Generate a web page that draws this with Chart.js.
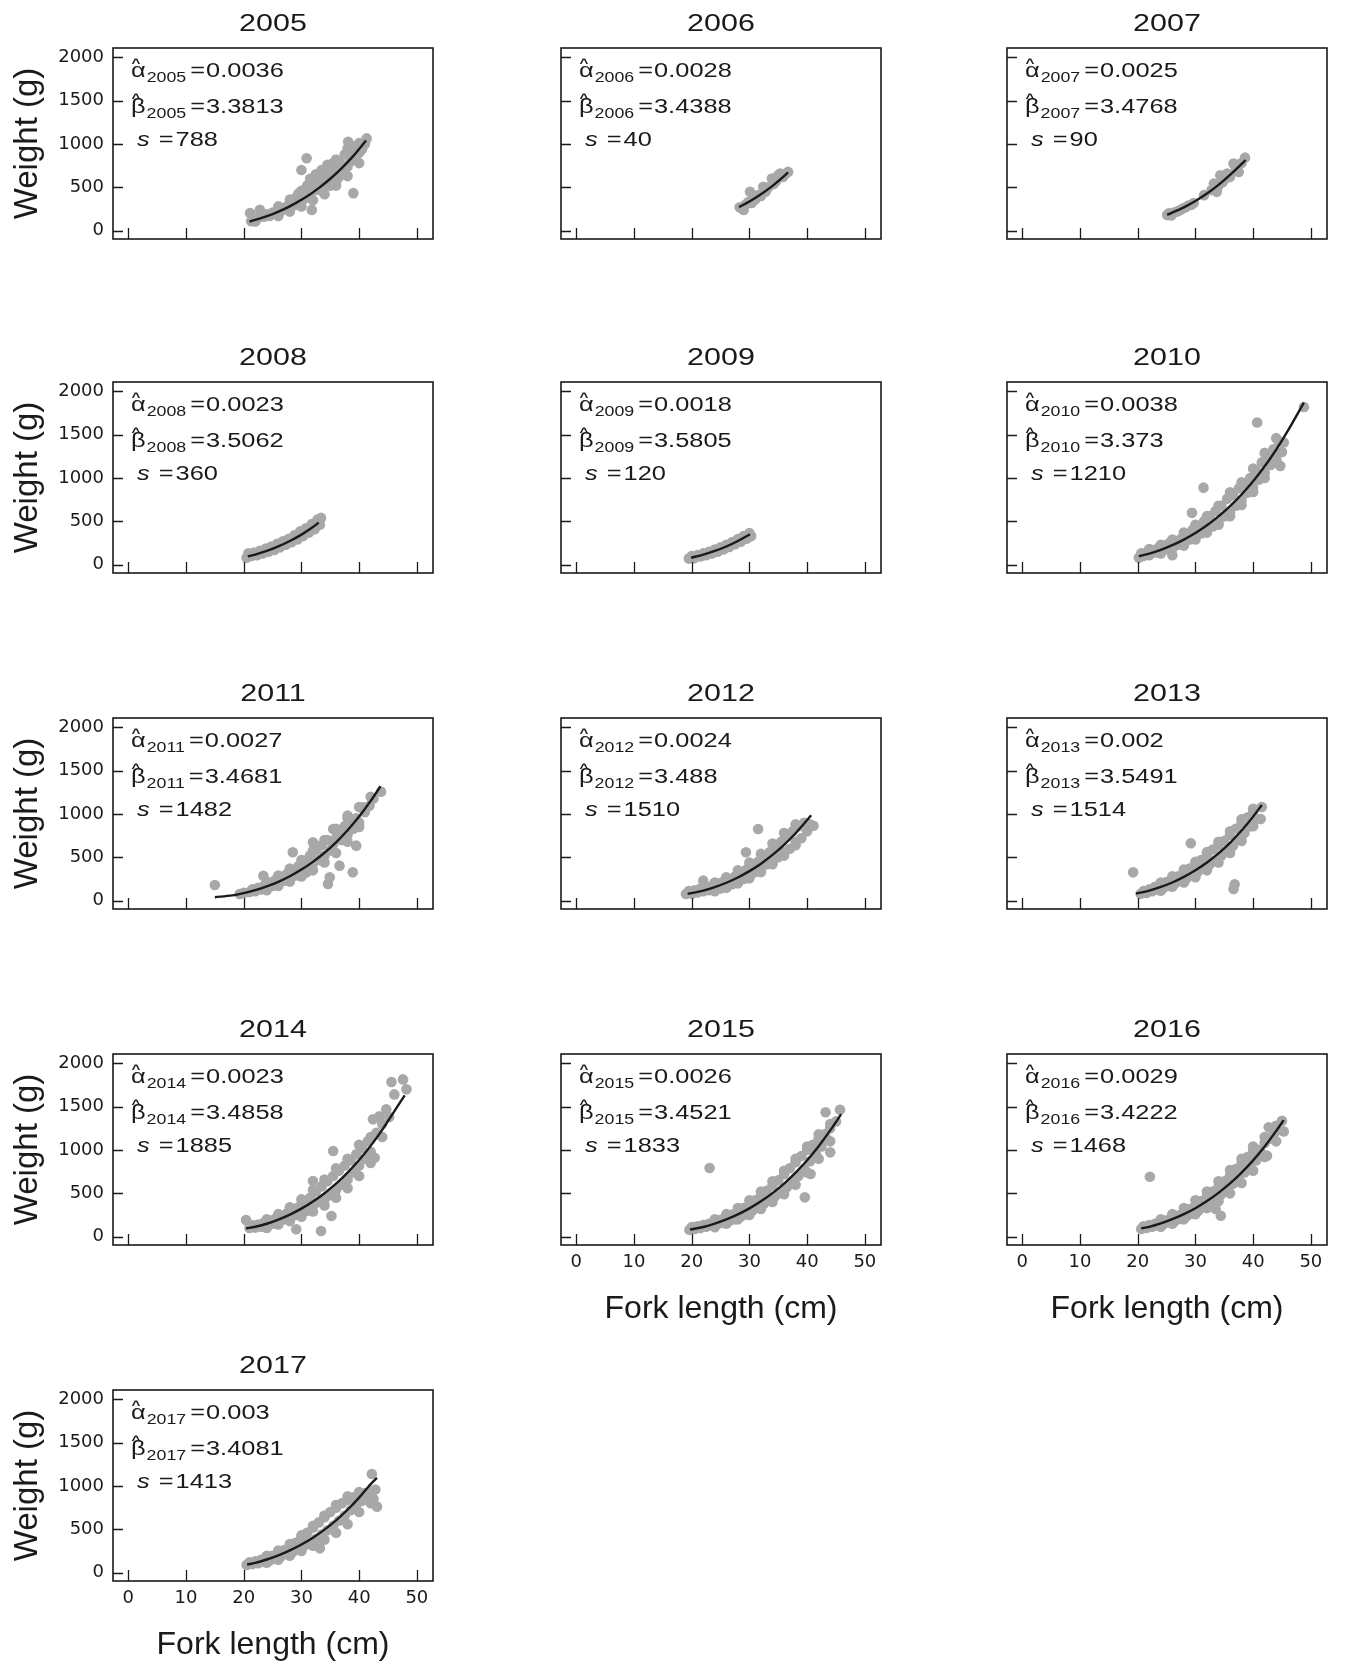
<!DOCTYPE html>
<html>
<head>
<meta charset="utf-8">
<script src="https://cdn.jsdelivr.net/npm/chart.js@4.4.1/dist/chart.umd.min.js"></script>
<style>
  body { margin: 0; background: #fff; }
  #page { position: relative; width: 1346px; height: 1665px; overflow: hidden; background: #fff; }
  .panel { position: absolute; width: 443px; height: 322px; }
</style>
</head>
<body>
<div id="page"></div>
<script>
// fitted parameters per year
const years = [2005, 2006, 2007, 2008, 2009, 2010, 2011, 2012, 2013, 2014, 2015, 2016, 2017];
const alphaHat = ['0.0036', '0.0028', '0.0025', '0.0023', '0.0018', '0.0038', '0.0027', '0.0024', '0.002', '0.0023', '0.0026', '0.0029', '0.003'];
const betaHat = ['3.3813', '3.4388', '3.4768', '3.5062', '3.5805', '3.373', '3.4681', '3.488', '3.5491', '3.4858', '3.4521', '3.4222', '3.4081'];
const sampleSize = [788, 40, 90, 360, 120, 1210, 1482, 1510, 1514, 1885, 1833, 1468, 1413];

const xTicks = [0, 10, 20, 30, 40, 50];
const yTicks = [0, 500, 1000, 1500, 2000];

const obs2005 = [[21.1,203],[21.3,110],[22,107],[22.5,150],[22.8,241],[23.5,160],[24,190],[24.5,170],[25,210],[25.5,200],[26,240],[26.5,230],[27,260],[27.5,280],[28,300],[28,240],[28.5,330],[29,300],[29,380],[29.5,350],[29.5,430],[30,700],[30.9,835],[30,330],[30.5,400],[30.5,470],[31,380],[31,520],[31.5,440],[31.5,600],[31.8,240],[32,460],[32,560],[32.5,500],[32.5,650],[33,470],[33,580],[33.5,530],[33.5,700],[34,500],[34,620],[34.5,560],[34.5,760],[35,520],[35,660],[35.5,600],[35.5,780],[36,560],[36,700],[36.5,620],[36.5,800],[37,660],[37,760],[37.5,700],[37.5,880],[38,740],[38.1,1027],[38.5,800],[38.5,920],[39,433],[39,830],[39.5,870],[39.5,980],[40,900],[40,960],[40.5,940],[41,1000],[41.3,1065],
  [26,280],[26,170],[28,360],[28,220],[30,460],[30,280],[32,580],[32,350],[34,700],[34,420],[36,820],[36,520],[38,950],[38,630],[40,1010],[40,780]];
const obs2006 = [[28.3,270],[28.7,255],[29,240],[29.3,300],[29.8,330],[30.1,448],[30.4,320],[30.8,390],[31,360],[31.5,410],[32,400],[32.4,506],[32.8,450],[33.3,500],[33.9,601],[34.2,540],[34.6,570],[35,640],[35.3,659],[35.8,620],[36.2,650],[36.7,678]];
const obs2007 = [[25.1,180],[25.4,200],[25.8,175],[26.3,210],[26.8,220],[27.3,235],[27.8,255],[28.3,270],[28.8,290],[29.3,300],[29.7,320],[31.5,410],[32.8,470],[33.2,544],[33.7,448],[34,520],[34.3,640],[34.7,560],[35.2,600],[35.5,660],[36,621],[36.6,774],[37,700],[37.5,678],[38,780],[38.6,843]];
const obs2008 = [[20.5,80],[20.8,130],[21.3,100],[21.8,140],[22.3,110],[22.8,160],[23.3,130],[23.8,185],[24.3,150],[24.8,210],[25.3,170],[25.8,240],[26.3,200],[26.8,270],[27.3,230],[27.8,300],[28.3,260],[28.8,340],[29.3,290],[29.8,385],[30.3,330],[30.8,420],[31.3,370],[31.8,470],[32.3,410],[32.8,520],[33.2,460],[33.4,540]];
const obs2009 = [[19.5,70],[20,100],[20.4,75],[21,110],[21.5,95],[22,130],[22.5,110],[23,150],[23.5,130],[24,175],[24.5,150],[25,200],[25.5,175],[26,230],[26.5,205],[27,260],[27.5,235],[28,295],[28.5,265],[29,330],[29.5,300],[30,365],[30.3,330]];
const obs2010 = [[20.2,80],[20.6,130],[21,100],[21.5,140],[22,110],[22.5,170],[23,140],[23.5,190],[24,160],[24.5,220],[25,180],[25.5,250],[26,110],[26.2,200],[26.5,270],[27,230],[27.5,300],[28,250],[28.5,350],[29,290],[29.4,598],[29.5,400],[30,320],[30.5,450],[31,360],[31.4,889],[31.5,500],[32,400],[32.5,560],[33,440],[33.5,620],[34,480],[34.5,680],[35,560],[35.5,760],[36,600],[36,835],[36.5,800],[37,680],[37.5,880],[38,750],[38.5,940],[39,830],[39.5,1000],[40,890],[40.5,1080],[40.7,1640],[41,980],[41.5,1180],[42,1060],[42.5,1260],[43,1150],[43.5,1330],[44,1220],[44.5,1420],[44.7,1140],[45,1300],[45.3,1410],[48.8,1820],
  [22,180],[24,230],[24,130],[26,290],[28,370],[28,220],[30,460],[30,290],[32,560],[32,370],[34,680],[34,460],[36,800],[36,560],[38,950],[38,690],[40,1110],[40,840],[42,1290],[42,1000],[44,1460],[44,1200]];
const obs2011 = [[15,181],[19.3,77],[20,90],[21,100],[21.5,130],[22,110],[22.5,150],[23,130],[23.4,288],[23.5,170],[24,150],[24.5,200],[25,170],[25.5,240],[26,200],[26.5,270],[27,230],[27.5,310],[28,250],[28.5,558],[28.5,340],[29,290],[29.5,400],[30,330],[30.5,460],[30.9,327],[31,400],[31.5,520],[32,673],[32,430],[32.5,580],[33,470],[33.5,640],[34,520],[34.5,700],[34.6,192],[34.9,270],[35,580],[35.5,827],[35.5,650],[36,720],[36.6,404],[36.5,780],[37,700],[37.5,860],[38,981],[38,760],[38.5,880],[38.9,327],[39,830],[39.5,635],[39.5,950],[40,900],[40.7,1077],[41,1020],[41.8,1096],[42.5,1180],[43.8,1258],
  [24,220],[24,120],[26,290],[26,170],[28,370],[28,220],[30,470],[30,280],[32,580],[32,350],[34,700],[34,440],[36,830],[36,550],[38,950],[38,680],[40,1080],[40,850],[42,1200]];
const obs2012 = [[19,77],[19.5,110],[20,80],[20.5,120],[21,95],[21.5,140],[22,231],[22,110],[22.5,150],[23,120],[23.5,170],[24,130],[24.5,200],[25,140],[25.5,220],[26,160],[26.5,240],[27,190],[27.5,280],[28,210],[28.5,320],[29,250],[29.4,558],[29.5,360],[30,290],[30.5,400],[31,330],[31.5,827],[31.5,450],[32,380],[32.5,500],[33,420],[33.5,560],[34,460],[34.5,620],[35,500],[35.5,680],[36,560],[36.5,740],[37,600],[37.5,800],[38,680],[38.5,860],[39,720],[39.5,900],[40,800],[40.5,880],[41.1,865],
  [22,160],[24,210],[24,110],[26,270],[26,150],[28,350],[28,200],[30,440],[30,260],[32,540],[32,330],[34,660],[34,420],[36,780],[36,520],[38,880],[38,640]];
const obs2013 = [[19.2,327],[20.5,80],[21,110],[21.5,90],[22,130],[22.5,110],[23,160],[23.5,130],[24,185],[24.5,150],[25,215],[25.5,170],[26,240],[26.5,200],[27,280],[27.5,230],[28,320],[28.5,260],[29,370],[29.2,662],[29.5,300],[30,420],[30.5,340],[31,470],[31.5,380],[32,530],[32.5,420],[33,590],[33.5,470],[34,640],[34.5,520],[35,690],[35.5,570],[36,760],[36.5,630],[36.6,135],[36.8,190],[37,830],[37.5,700],[38,900],[38.5,780],[39,960],[39.5,860],[40,1019],[40.5,940],[41.3,942],[41.5,1080],
  [24,210],[24,115],[26,280],[26,160],[28,360],[28,210],[30,450],[30,270],[32,560],[32,350],[34,680],[34,440],[36,800],[36,550],[38,940],[38,690],[40,1060],[40,860]];
const obs2014 = [[20.4,192],[21,100],[21.5,130],[22,105],[22.5,140],[23,115],[23.5,160],[24,130],[24.5,185],[25,150],[25.5,210],[26,170],[26.5,230],[27,200],[27.5,270],[28,220],[28.5,300],[29,250],[29.1,85],[29.5,340],[30,280],[30.5,380],[31,300],[31.5,450],[32,642],[32,360],[32.5,520],[33,400],[33.4,65],[33.5,580],[34,430],[34.5,640],[35,480],[35.2,238],[35.5,988],[35.5,700],[36,540],[36.5,760],[37,600],[37.5,820],[38,660],[38.5,880],[39,740],[39.5,950],[40,820],[40.5,1020],[41,900],[41.5,1100],[42,980],[42.4,1354],[42.7,911],[43,1200],[43.5,1390],[44,1150],[44.7,1470],[45.2,1380],[45.6,1785],[46.1,1642],[47.6,1815],[48.2,1700],
  [24,200],[24,100],[26,260],[26,140],[28,340],[28,180],[30,430],[30,230],[32,540],[32,290],[34,660],[34,360],[36,790],[36,450],[38,900],[38,560],[40,1060],[40,700],[42,1150],[42,850],[44,1300]];
const obs2015 = [[19.6,80],[20,110],[20.5,90],[21,120],[21.5,100],[22,135],[22.5,115],[23,150],[23.1,792],[23.5,130],[24,170],[24.5,145],[25,195],[25.5,160],[26,225],[26.5,180],[27,255],[27.5,200],[28,290],[28.5,230],[29,330],[29.5,260],[30,370],[30.5,300],[31,420],[31.5,340],[32,470],[32.5,380],[33,530],[33.5,430],[34,590],[34.5,470],[35,650],[35.5,520],[36,720],[36.5,570],[37,790],[37.5,640],[38,860],[38.5,700],[39,930],[39.5,780],[39.6,454],[40,1000],[40.6,723],[40.5,870],[41,1060],[41.5,960],[42,1130],[42.5,1040],[43,1180],[43.2,1435],[43.5,1120],[44,973],[44,1250],[45,1330],[45.7,1465],
  [24,200],[24,110],[26,260],[26,150],[28,330],[28,200],[30,420],[30,250],[32,520],[32,320],[34,640],[34,400],[36,760],[36,490],[38,900],[38,600],[40,1040],[40,740],[42,1180],[42,900],[44,1300],[44,1100]];
const obs2016 = [[20.6,88],[21,120],[21.5,100],[22,135],[22.1,692],[22.5,115],[23,150],[23.5,130],[24,170],[24.5,145],[25,190],[25.5,165],[26,215],[26.5,185],[27,245],[27.5,205],[28,280],[28.5,235],[29,320],[29.5,265],[30,360],[30.5,300],[31,410],[31.5,340],[32,460],[32.5,390],[33,520],[33.5,319],[33.5,440],[34,580],[34.4,242],[34.5,490],[35,640],[35.5,550],[36,710],[36.5,610],[37,780],[37.5,680],[38,850],[38.5,740],[39,920],[39.5,810],[40,990],[40.5,880],[41,1000],[41.5,960],[42,1080],[42.4,935],[42.7,1262],[43,1130],[43.5,1180],[44,1220],[45,1338],[45.3,1215],
  [24,200],[24,115],[26,260],[26,150],[28,330],[28,200],[30,420],[30,260],[32,520],[32,330],[34,640],[34,410],[36,770],[36,500],[38,900],[38,620],[40,1040],[40,760],[42,1150],[42,920],[44,1280],[44,1100]];
const obs2017 = [[20.5,90],[21,120],[21.5,100],[22,130],[22.5,110],[23,150],[23.5,125],[24,170],[24.5,140],[25,195],[25.5,160],[26,225],[26.5,190],[27,260],[27.5,215],[28,300],[28.5,240],[29,345],[29.5,275],[30,400],[30.5,310],[31,460],[31.5,350],[32,520],[32.5,390],[33,580],[33.2,281],[33.5,440],[34,640],[34.5,490],[35,700],[35.5,540],[36,750],[36.5,600],[37,800],[37.5,660],[38,840],[38.5,720],[39,870],[39.5,780],[40,900],[40.5,830],[41,920],[41.5,870],[42,900],[42.2,1138],[42.5,850],[43.1,762],[42.8,960],
  [24,195],[24,115],[26,255],[26,150],[28,330],[28,195],[30,430],[30,250],[32,540],[32,310],[34,660],[34,380],[36,780],[36,460],[38,880],[38,560],[40,930],[40,700],[42,940],[42,800]];

// fitted curve
const fit2005 = [[21,106],[23,145],[25,192],[27,248],[29,318],[31,397],[33,491],[35,599],[37,722],[39,863],[41.2,1040]];
const fit2006 = [[28.2,272],[30,337],[32,420],[34,517],[36,629],[36.7,673]];
const fit2007 = [[25.1,183],[28,269],[30,342],[32,428],[34,528],[36,644],[38.7,815]];
const fit2008 = [[20.7,95],[22,117],[24,159],[26,211],[28,273],[30,347],[32,435],[33,485]];
const fit2009 = [[19.9,80],[22,115],[24,158],[26,210],[28,273],[30.1,352]];
const fit2010 = [[20.2,97],[22,128],[24,172],[26,225],[28,289],[30,365],[32,454],[34,557],[36,675],[38,810],[40,962],[42,1135],[44,1328],[46,1543],[48.8,1870]];
const fit2011 = [[15,40],[18,61],[20,88],[22,122],[24,165],[26,218],[28,282],[30,359],[32,448],[34,553],[36,674],[38,813],[40,971],[42,1151],[43.7,1320]];
const fit2012 = [[19.3,78],[22,116],[24,157],[26,207],[28,268],[30,341],[32,427],[34,528],[36,644],[38,778],[40,930],[40.7,987]];
const fit2013 = [[19.7,82],[22,116],[24,159],[26,210],[28,274],[30,350],[32,440],[34,546],[36,668],[38,809],[40,970],[41.5,1105]];
const fit2014 = [[20.4,95],[22,115],[24,149],[26,197],[28,255],[30,324],[32,406],[34,502],[36,612],[38,740],[40,884],[42,1048],[44,1232],[46,1438],[47.9,1630]];
const fit2015 = [[19.7,82],[22,112],[24,151],[26,199],[28,257],[30,327],[32,408],[34,503],[36,613],[38,739],[40,882],[42,1044],[44,1226],[45.9,1415]];
const fit2016 = [[20.6,95],[22,114],[24,153],[26,202],[28,260],[30,329],[32,411],[34,506],[36,614],[38,740],[40,881],[42,1041],[44,1221],[45.3,1345]];
const fit2017 = [[20.6,95],[22,113],[24,152],[26,199],[28,257],[30,325],[32,404],[34,497],[36,604],[38,726],[40,866],[42,1022],[43.1,1095]];

const observed = [obs2005, obs2006, obs2007, obs2008, obs2009, obs2010, obs2011, obs2012, obs2013, obs2014, obs2015, obs2016, obs2017];
const fitted = [fit2005, fit2006, fit2007, fit2008, fit2009, fit2010, fit2011, fit2012, fit2013, fit2014, fit2015, fit2016, fit2017];

const INK = '#1a1a1a';
const DOT = '#a8a8a8';
const SX = 1.27; // the figure's text is drawn wide
const colLeft = [0, 448, 894];
const rowTop = [0, 334, 670, 1006, 1342];

Chart.defaults.font.family = '"DejaVu Sans"';
Chart.defaults.color = INK;

// draws wide text, returns x after it
function put(ctx, text, x, y, font) {
  ctx.save();
  ctx.font = font;
  ctx.translate(x, y);
  ctx.scale(SX, 1);
  ctx.textAlign = 'left';
  ctx.textBaseline = 'alphabetic';
  ctx.fillText(text, 0, 0);
  const w = ctx.measureText(text).width * SX;
  ctx.restore();
  return x + w;
}
function wide(ctx, text, font) {
  ctx.save();
  ctx.font = font;
  const w = ctx.measureText(text).width * SX;
  ctx.restore();
  return w;
}

const panelDecor = {
  id: 'panelDecor',
  afterDraw(chart, args, opts) {
    const {ctx, chartArea: a} = chart;
    const {x, y} = chart.scales;
    const i = opts.index;
    ctx.save();
    ctx.strokeStyle = INK;
    ctx.lineWidth = 1.6;
    ctx.strokeRect(a.left, a.top, a.right - a.left, a.bottom - a.top);

    // ticks point inward
    ctx.lineWidth = 1.3;
    ctx.beginPath();
    xTicks.forEach(v => {
      const px = Math.round(x.getPixelForValue(v)) + 0.5;
      ctx.moveTo(px, a.bottom);
      ctx.lineTo(px, a.bottom - 11);
    });
    yTicks.forEach(v => {
      const py = Math.round(y.getPixelForValue(v)) + 0.5;
      ctx.moveTo(a.left, py);
      ctx.lineTo(a.left + 10, py);
    });
    ctx.stroke();

    ctx.fillStyle = INK;
    const big = '20px "Liberation Sans"';
    const sub = '14px "Liberation Sans"';
    const hat = 'bold 12px "Liberation Sans"';
    const ital = 'italic 20px "Liberation Sans"';

    // year title
    const tf = '24px "Liberation Sans"';
    const yr = String(years[i]);
    put(ctx, yr, (a.left + a.right) / 2 - wide(ctx, yr, tf) / 2, a.top - 17, tf);

    // alpha line
    const b1 = a.top + 28.5;
    let cx = put(ctx, 'α', a.left + 18, b1, big);
    put(ctx, '^', a.left + 23 - wide(ctx, '^', hat) / 2, b1 - 10, hat);
    cx = put(ctx, yr, cx + 1, b1 + 5, sub);
    cx = put(ctx, '=', cx + 4, b1, big);
    put(ctx, alphaHat[i], cx + 1, b1, big);

    // beta line
    const b2 = a.top + 65;
    cx = put(ctx, 'β', a.left + 18, b2, big);
    put(ctx, '^', a.left + 23 - wide(ctx, '^', hat) / 2, b2 - 11, hat);
    cx = put(ctx, yr, cx + 1, b2 + 5, sub);
    cx = put(ctx, '=', cx + 4, b2, big);
    put(ctx, betaHat[i], cx + 1, b2, big);

    // sample size line
    const b3 = a.top + 98;
    cx = put(ctx, 's', a.left + 24, b3, ital);
    cx = put(ctx, '=', cx + 9, b3, big);
    put(ctx, String(sampleSize[i]), cx + 2, b3, big);
    ctx.restore();
  }
};

const page = document.getElementById('page');

years.forEach((year, i) => {
  const row = Math.floor(i / 3);
  const col = i % 3;
  const showX = i >= 10;
  const showY = col === 0;

  const holder = document.createElement('div');
  holder.className = 'panel';
  holder.style.left = colLeft[col] + 'px';
  holder.style.top = rowTop[row] + 'px';
  const canvas = document.createElement('canvas');
  canvas.width = 443;
  canvas.height = 322;
  holder.appendChild(canvas);
  page.appendChild(holder);

  new Chart(canvas, {
    type: 'scatter',
    data: {
      datasets: [
        {
          data: fitted[i].map(([l, w]) => ({x: l, y: w})),
          showLine: true,
          borderColor: INK,
          borderWidth: 2.4,
          pointRadius: 0,
          cubicInterpolationMode: 'monotone'
        },
        {
          data: observed[i].map(([l, w]) => ({x: l, y: w})),
          pointRadius: 5.3,
          backgroundColor: DOT,
          borderWidth: 0
        }
      ]
    },
    options: {
      responsive: false,
      animation: false,
      events: [],
      layout: { padding: { top: 48, right: 10, bottom: 0, left: 0 } },
      plugins: {
        legend: { display: false },
        tooltip: { enabled: false },
        panelDecor: { index: i }
      },
      scales: {
        x: {
          type: 'linear',
          min: -2.65,
          max: 52.8,
          grid: { display: false, drawTicks: false },
          border: { display: false },
          afterBuildTicks: s => { s.ticks = xTicks.map(v => ({value: v})); },
          afterFit: s => { s.height = 83; },
          ticks: {
            display: showX,
            padding: 7,
            autoSkip: false,
            maxRotation: 0,
            color: INK,
            font: { size: 18 },
            callback: v => String(v)
          },
          title: {
            display: showX,
            text: 'Fork length (cm)',
            color: INK,
            font: { family: '"Liberation Sans"', size: 32 },
            padding: { top: 0, bottom: 0 }
          }
        },
        y: {
          type: 'linear',
          min: -96,
          max: 2108,
          grid: { display: false, drawTicks: false },
          border: { display: false },
          afterBuildTicks: s => { s.ticks = yTicks.map(v => ({value: v})); },
          afterFit: s => { s.width = 113; },
          ticks: {
            display: showY,
            padding: 9,
            color: INK,
            font: { size: 18 },
            callback: v => String(v)
          },
          title: {
            display: showY,
            text: 'Weight (g)',
            color: INK,
            font: { family: '"Liberation Sans"', size: 33 },
            padding: { top: 8, bottom: 0 }
          }
        }
      }
    },
    plugins: [panelDecor]
  });
});
</script>
</body>
</html>
